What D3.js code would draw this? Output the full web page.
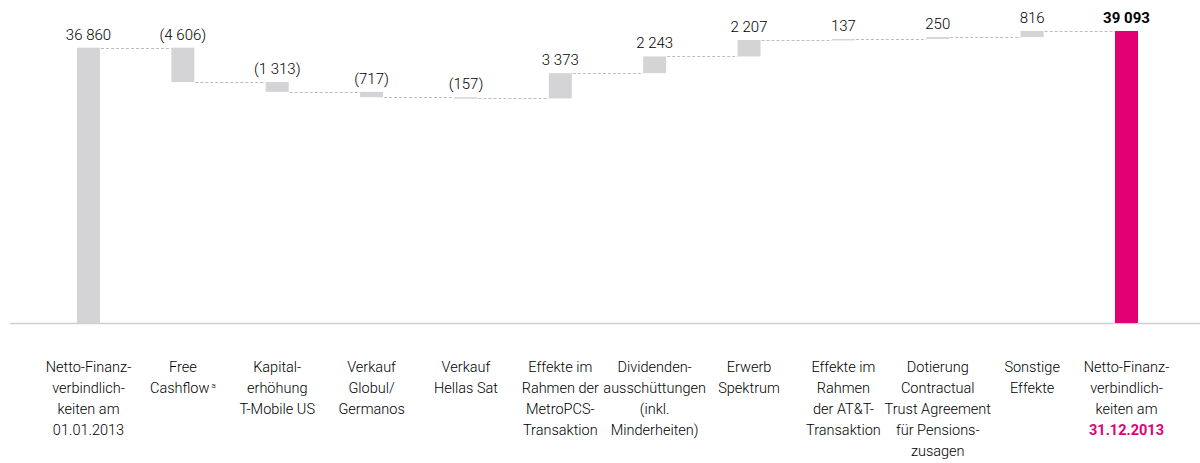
<!DOCTYPE html>
<html>
<head>
<meta charset="utf-8">
<script src="https://cdn.jsdelivr.net/npm/d3@7"></script>
<style>
  body { margin: 0; background: #fff; }
  svg { display: block; font-family: Roboto, "Liberation Sans", sans-serif; }
</style>
</head>
<body>
<div id="chart"></div>
<script>
// category labels, one array per line
var categories = [
  ['Netto-Finanz-', 'verbindlich-', 'keiten am', '01.01.2013'],
  ['Free', 'Cashflow'],
  ['Kapital-', 'erhöhung', 'T-Mobile US'],
  ['Verkauf', 'Globul/', 'Germanos'],
  ['Verkauf', 'Hellas Sat'],
  ['Effekte im', 'Rahmen der', 'MetroPCS-', 'Transaktion'],
  ['Dividenden-', 'ausschüttungen', '(inkl.', 'Minderheiten)'],
  ['Erwerb', 'Spektrum'],
  ['Effekte im', 'Rahmen', 'der AT&T-', 'Transaktion'],
  ['Dotierung', 'Contractual', 'Trust Agreement', 'für Pensions-', 'zusagen'],
  ['Sonstige', 'Effekte'],
  ['Netto-Finanz-', 'verbindlich-', 'keiten am', '31.12.2013']
];
var values = [36860, -4606, -1313, -717, -157, 3373, 2243, 2207, 137, 250, 816, 39093];
var valueLabels = ['36 860', '(4 606)', '(1 313)', '(717)', '(157)', '3 373', '2 243', '2 207', '137', '250', '816', '39 093'];
var kinds = ['total', 'delta', 'delta', 'delta', 'delta', 'delta', 'delta', 'delta', 'delta', 'delta', 'delta', 'total'];

var width = 1200, height = 463;
var baseY = 323;

var svg = d3.select('#chart')
  .append('svg')
    .attr('width', width)
    .attr('height', height);

// build waterfall steps
var running = 0;
var steps = values.map(function(v, i) {
  var s;
  if (kinds[i] === 'total') {
    s = {start: 0, end: v};
    running = v;
  } else {
    s = {start: running, end: running + v};
    running += v;
  }
  s.i = i;
  s.kind = kinds[i];
  s.label = valueLabels[i];
  return s;
});

var x_scale = d3.scalePoint()
  .domain(d3.range(categories.length))
  .range([88.5, 1126.5]);

var y_scale = d3.scaleLinear()
  .domain([0, 39093])
  .range([baseY, 31]);

var barW = 23;

// baseline
svg.append('line')
  .attr('x1', 10).attr('x2', 1200)
  .attr('y1', baseY + 0.5).attr('y2', baseY + 0.5)
  .attr('stroke', '#cfcfcf')
  .attr('stroke-width', 1.5);

// dashed connectors
svg.selectAll('line.conn')
  .data(steps.slice(0, -1))
  .enter()
  .append('line')
    .attr('class', 'conn')
    .attr('x1', function(d) { return x_scale(d.i) + barW / 2 + 1; })
    .attr('x2', function(d) { return x_scale(d.i + 1) - barW / 2; })
    .attr('y1', function(d) { return Math.round(y_scale(d.end)) + 0.5; })
    .attr('y2', function(d) { return Math.round(y_scale(d.end)) + 0.5; })
    .attr('stroke', '#bdbdbd')
    .attr('stroke-width', 1)
    .attr('stroke-dasharray', '3,2');

// bars
svg.selectAll('rect.bar')
  .data(steps)
  .enter()
  .append('rect')
    .attr('class', 'bar')
    .attr('x', function(d) { return x_scale(d.i) - barW / 2; })
    .attr('y', function(d) { return y_scale(Math.max(d.start, d.end)); })
    .attr('width', barW)
    .attr('height', function(d) { return Math.max(1.5, Math.abs(y_scale(d.start) - y_scale(d.end))); })
    .attr('fill', function(d, i) { return i === steps.length - 1 ? '#e20074' : '#d4d4d6'; });

// value labels
svg.selectAll('text.val')
  .data(steps)
  .enter()
  .append('text')
    .attr('class', 'val')
    .attr('x', function(d) { return x_scale(d.i); })
    .attr('y', function(d) { return y_scale(Math.max(d.start, d.end)) - 8; })
    .attr('text-anchor', 'middle')
    .attr('font-size', 15)
    .attr('font-weight', function(d, i) { return i === steps.length - 1 ? 700 : 300; })
    .attr('fill', '#000')
    .text(function(d) { return d.label; });

// category labels
var cat = svg.selectAll('text.cat')
  .data(categories)
  .enter()
  .append('text')
    .attr('class', 'cat')
    .attr('text-anchor', 'middle')
    .attr('font-size', 14.5)
    .attr('font-weight', 300)
    .attr('fill', '#000');

cat.each(function(lines, i) {
  var t = d3.select(this);
  lines.forEach(function(line, j) {
    var ts = t.append('tspan')
      .attr('x', x_scale(i))
      .attr('y', 372 + j * 21)
      .text(line);
    if (i === categories.length - 1 && j === lines.length - 1) {
      ts.attr('fill', '#e20074').attr('font-weight', 700);
    }
    if (i === 1 && j === 1) {
      t.append('tspan')
        .attr('font-size', 8)
        .attr('dx', 2)
        .attr('dy', -5)
        .text('a');
    }
  });
});
</script>
</body>
</html>
